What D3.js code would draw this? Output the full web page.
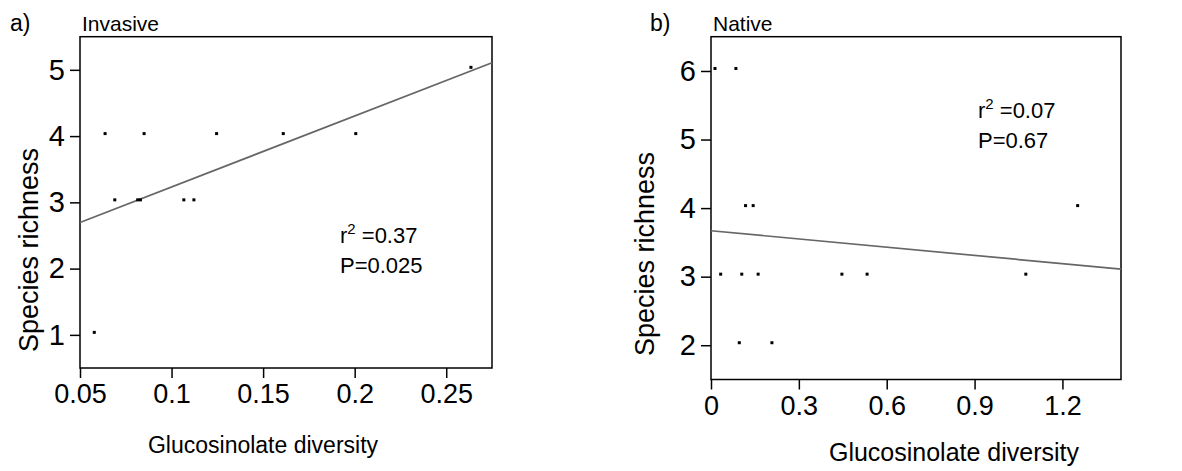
<!DOCTYPE html>
<html><head><meta charset="utf-8">
<script src="https://cdn.jsdelivr.net/npm/d3@7"></script>
<style>body{margin:0;background:#fff}svg{display:block}text{font-family:"Liberation Sans",Arial,sans-serif;fill:#000}</style>
</head><body>
<svg id="c" width="1182" height="471"></svg>
<script>
// Panel a (Invasive)
const invX = [0.0578, 0.0637, 0.069, 0.0815, 0.083, 0.085, 0.1067, 0.1122, 0.1246, 0.161, 0.2006, 0.2635];
const invY = [1, 4, 3, 3, 3, 4, 3, 3, 4, 4, 4, 5];
const invFit = [2.16, 10.72];          // intercept, slope
const invXTicks = [0.05, 0.1, 0.15, 0.2, 0.25];
const invYTicks = [1, 2, 3, 4, 5];
const invStats = ["0.37", "0.025"];
// Panel b (Native)
const natX = [0.0136, 0.085, 0.118, 0.144, 1.252, 0.033, 0.105, 0.161, 0.447, 0.533, 1.075, 0.0966, 0.208];
const natY = [6, 6, 4, 4, 4, 3, 3, 3, 3, 3, 3, 2, 2];
const natFit = [3.67, -0.4];
const natXTicks = [0, 0.3, 0.6, 0.9, 1.2];
const natYTicks = [2, 3, 4, 5, 6];
const natStats = ["0.07", "0.67"];

const svg = d3.select("#c");

function panel(o) {
  const x = d3.scaleLinear().domain(o.xd).range([o.l, o.r]);
  const y = d3.scaleLinear().domain(o.yd).range([o.b, o.t]);
  const g = svg.append("g");
  const xa = g.append("g").attr("transform", `translate(0,${o.b})`)
    .call(d3.axisBottom(x).tickValues(o.xt).tickSize(10).tickSizeOuter(0).tickPadding(6).tickFormat(d => String(d)));
  xa.selectAll("text").attr("font-size", 27).attr("font-family", "Liberation Sans, Arial, sans-serif");
  const ya = g.append("g").attr("transform", `translate(${o.l},0)`)
    .call(d3.axisLeft(y).tickValues(o.yt).tickSize(10).tickSizeOuter(0).tickPadding(5).tickFormat(d3.format("d")));
  ya.selectAll("text").attr("font-size", 29).attr("font-family", "Liberation Sans, Arial, sans-serif");
  g.selectAll(".domain").remove();
  g.selectAll(".tick line").attr("stroke", "#000").attr("stroke-width", 1.5);
  g.append("rect").attr("x", o.l).attr("y", o.t).attr("width", o.r - o.l).attr("height", o.b - o.t)
    .attr("fill", "none").attr("stroke", "#000").attr("stroke-width", 1.5);
  const [a, s] = o.fit;
  g.append("line")
    .attr("x1", x(o.xd[0])).attr("y1", y(a + s * o.xd[0]))
    .attr("x2", x(o.xd[1])).attr("y2", y(a + s * o.xd[1]))
    .attr("stroke", "#666").attr("stroke-width", 1.7);
  g.selectAll("rect.pt").data(o.px.map((v, i) => [v, o.py[i]])).enter().append("rect")
    .attr("class", "pt").attr("x", d => x(d[0]) - 1.5).attr("y", d => y(d[1]) - 4)
    .attr("width", 3).attr("height", 3).attr("fill", "#000");
  g.append("text").attr("x", o.lbl[0]).attr("y", 31).attr("font-size", 23).text(o.letter);
  g.append("text").attr("x", o.lbl[1]).attr("y", 31).attr("font-size", 21).text(o.title);
  g.append("text").attr("font-size", o.xfs).attr("text-anchor", "middle")
    .attr("x", o.xt_pos[0]).attr("y", o.xt_pos[1]).text("Glucosinolate diversity");
  g.append("text").attr("font-size", 27).attr("text-anchor", "middle")
    .attr("transform", `translate(${o.yt_pos[0]},${o.yt_pos[1]}) rotate(-90)`).text("Species richness");
  const t1 = g.append("text").attr("font-size", 22).attr("x", o.st[0]).attr("y", o.st[1]);
  t1.append("tspan").text("r");
  t1.append("tspan").attr("font-size", 15).attr("dy", -9).text("2");
  t1.append("tspan").attr("dy", 9).text(" =" + o.stats[0]);
  g.append("text").attr("font-size", 22).attr("x", o.st[0]).attr("y", o.st[1] + 30).text("P=" + o.stats[1]);
}

panel({l: 80, r: 492, t: 36.7, b: 368, xd: [0.05, 0.275], yd: [0.5, 5.5],
  xt: invXTicks, yt: invYTicks, fit: invFit, px: invX, py: invY,
  letter: "a)", title: "Invasive", lbl: [10, 82], xt_pos: [263, 453], xfs: 23, yt_pos: [38, 250],
  st: [340, 243], stats: invStats});
panel({l: 711, r: 1121, t: 36.7, b: 379.5, xd: [0, 1.4], yd: [1.5, 6.5],
  xt: natXTicks, yt: natYTicks, fit: natFit, px: natX, py: natY,
  letter: "b)", title: "Native", lbl: [650, 713], xt_pos: [954, 461], xfs: 25, yt_pos: [654, 254],
  st: [978, 118], stats: natStats});
</script>
</body></html>
